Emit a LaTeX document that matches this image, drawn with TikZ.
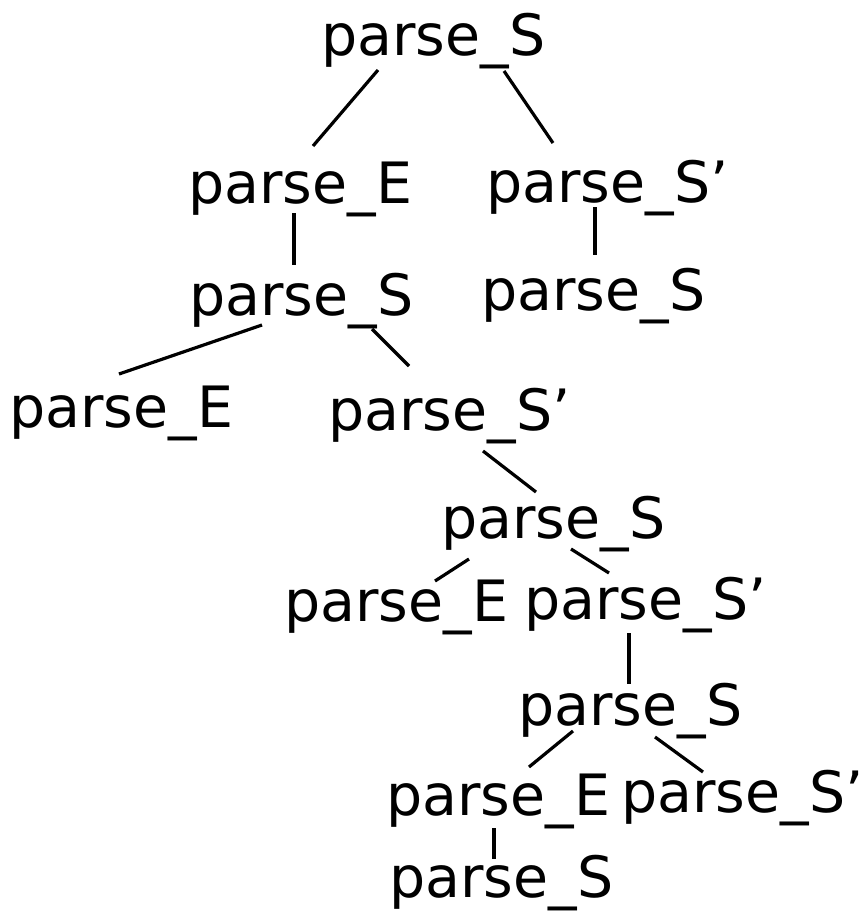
\documentclass[tikz,border=0pt]{standalone}
\usepackage{fontspec}
\setmainfont{DejaVu Sans}
\usepackage{tikz}
\tikzset{%
    every node/.style={inner sep=0pt, anchor=base west,
    	font=\fontsize{57}{68}\selectfont},
    edge/.style={line width=3.2pt}
}

\begin{document}
\begin{tikzpicture}[x=1pt, y=-1pt]
	\useasboundingbox (0,0) rectangle (863,911);
	\node (root) at (321,55) {parse\_S};
	\node (e1) at (188,203) {parse\_E};
	\node (sp1) at (486,202) {parse\_S’};
	\node (s2) at (189,315) {parse\_S};
	\node (s3) at (481,310) {parse\_S};
	\node (e2) at (9,427) {parse\_E};
	\node (sp2) at (328,430) {parse\_S’};
	\node (s4) at (441,538) {parse\_S};
	\node (e3) at (284,621) {parse\_E};
	\node (sp3) at (524,619) {parse\_S’};
	\node (s5) at (518,725) {parse\_S};
	\node (e4) at (386,815) {parse\_E};
	\node (sp4) at (621,812) {parse\_S’};
	\node (s6) at (389,897) {parse\_S};
	\draw [edge] ([shift={(57,15)}]root.base west) -- ([shift={(125,-57)}]e1.base west);
	\draw [edge] ([shift={(183,16)}]root.base west) -- ([shift={(67,-59)}]sp1.base west);
	\draw [edge] ([shift={(106,10)}]e1.base west) -- ([shift={(105,-50)}]s2.base west);
	\draw [edge] ([shift={(109,5)}]sp1.base west) -- ([shift={(114,-55)}]s3.base west);
	\draw [edge] ([shift={(73,10)}]s2.base west) -- ([shift={(110,-53)}]e2.base west);
	\draw [edge] ([shift={(183,14)}]s2.base west) -- ([shift={(81,-64)}]sp2.base west);
	\draw [edge] ([shift={(155,21)}]sp2.base west) -- ([shift={(95,-46)}]s4.base west);
	\draw [edge] ([shift={(28,21)}]s4.base west) -- ([shift={(151,-40)}]e3.base west);
	\draw [edge] ([shift={(130,11)}]s4.base west) -- ([shift={(85,-46)}]sp3.base west);
	\draw [edge] ([shift={(105,14)}]sp3.base west) -- ([shift={(111,-41)}]s5.base west);
	\draw [edge] ([shift={(55,6)}]s5.base west) -- ([shift={(143,-48)}]e4.base west);
	\draw [edge] ([shift={(137,12)}]s5.base west) -- ([shift={(82,-40)}]sp4.base west);
	\draw [edge] ([shift={(108,13)}]e4.base west) -- ([shift={(105,-38)}]s6.base west);
\end{tikzpicture}
\end{document}
